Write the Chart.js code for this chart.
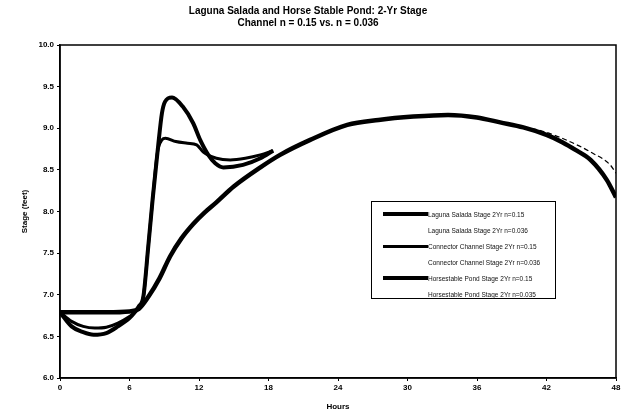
<!DOCTYPE html>
<html lang="en">
<head>
  <meta charset="UTF-8">
  <title>Laguna Salada and Horse Stable Pond: 2-Yr Stage</title>
  <script src="https://cdn.jsdelivr.net/npm/chart.js"></script>
  <style>
    body { margin: 0; background: #fff; }
    #wrap { position: relative; width: 627px; height: 417px; }
    #legend {
      position: absolute; left: 371px; top: 201px; width: 185px; height: 98px;
      border: 1px solid #000; background: #fff; box-sizing: border-box;
      font-family: Arial, "Liberation Sans", sans-serif; font-size: 6.5px; color: #111;
    }
    .row { position: absolute; left: 0; height: 16px; display: flex; align-items: center; white-space: nowrap; }
    .swatch { width: 45px; margin-left: 11px; background: #000; }
  </style>
</head>
<body>

<div id="wrap">
  <canvas id="stageChart" width="627" height="417"></canvas>
  <div id="legend"></div>
</div>

<script>
// hours and stage (feet)
const lagunaHours = [0, 1, 2, 2.9, 4, 5, 6, 6.4, 6.8, 7.2, 7.6, 8, 8.46, 8.8, 9.07, 9.67, 10.6, 11.5, 12.1, 12.8, 13.4, 14.1, 15.8, 17.3, 18.4];
const lagunaStage015 = [6.79, 6.62, 6.55, 6.52, 6.54, 6.62, 6.72, 6.78, 6.86, 6.98, 7.55, 8.15, 8.77, 9.18, 9.32, 9.37, 9.26, 9.06, 8.86, 8.68, 8.58, 8.53, 8.56, 8.64, 8.73];
const lagunaStage036 = [6.79, 6.62, 6.55, 6.52, 6.54, 6.62, 6.72, 6.78, 6.86, 6.98, 7.55, 8.15, 8.77, 9.18, 9.32, 9.37, 9.26, 9.06, 8.86, 8.68, 8.58, 8.53, 8.56, 8.64, 8.73];

const connectorHours = [0, 1, 2, 3, 4, 5, 6, 6.4, 6.8, 7.2, 7.6, 8, 8.4, 8.8, 9.1, 10, 11, 11.8, 12.4, 13.5, 14.7, 16, 17.3, 18.4];
const connectorStage015 = [6.79, 6.68, 6.62, 6.6, 6.61, 6.66, 6.74, 6.78, 6.86, 6.98, 7.55, 8.15, 8.7, 8.86, 8.88, 8.84, 8.82, 8.8, 8.71, 8.64, 8.62, 8.64, 8.68, 8.73];
const connectorStage036 = [6.79, 6.68, 6.62, 6.6, 6.61, 6.66, 6.74, 6.78, 6.86, 6.98, 7.55, 8.15, 8.7, 8.86, 8.88, 8.84, 8.82, 8.8, 8.71, 8.64, 8.62, 8.64, 8.68, 8.73];

const pondHours015 = [0, 2, 4, 6, 6.8, 7.6, 8.6, 9.5, 10.5, 11.5, 12.5, 13.5, 15, 17.3, 19, 21.6, 24.8, 27.5, 30.5, 33.5, 36, 38, 40, 42, 43.4, 44.5, 45.8, 47.2, 48];
const pondStage015 = [6.79, 6.79, 6.79, 6.8, 6.83, 6.97, 7.2, 7.46, 7.68, 7.85, 7.99, 8.11, 8.3, 8.53, 8.68, 8.86, 9.04, 9.1, 9.14, 9.16, 9.13, 9.07, 9.01, 8.92, 8.83, 8.74, 8.62, 8.38, 8.17];
const pondHours035 = [0, 2, 4, 6, 6.8, 7.6, 8.6, 9.5, 10.5, 11.5, 12.5, 13.5, 15, 17.3, 19, 21.6, 24.8, 27.5, 30.5, 33.5, 36, 38, 40, 42, 44, 46, 47.5, 48];
const pondStage035 = [6.79, 6.79, 6.79, 6.8, 6.83, 6.97, 7.2, 7.46, 7.68, 7.85, 7.99, 8.11, 8.3, 8.53, 8.68, 8.86, 9.04, 9.1, 9.14, 9.16, 9.13, 9.08, 9.02, 8.95, 8.84, 8.7, 8.56, 8.46];

const hourTicks = [0, 6, 12, 18, 24, 30, 36, 42, 48];

const seriesNames = [
  'Laguna Salada Stage 2Yr n=0.15',
  'Laguna Salada Stage 2Yr n=0.036',
  'Connector Channel Stage 2Yr n=0.15',
  'Connector Channel Stage 2Yr n=0.036',
  'Horsestable Pond Stage 2Yr n=0.15',
  'Horsestable Pond Stage 2Yr n=0.035'
];

function pts(xs, ys) {
  return xs.map((x, i) => ({ x: x, y: ys[i] }));
}

const lineWidths = [4, 1, 3, 1, 4.5, 1.2];
const dashes = [[], [3, 3], [], [3, 3], [], [5, 3]];
const seriesData = [
  pts(lagunaHours, lagunaStage015),
  pts(lagunaHours, lagunaStage036),
  pts(connectorHours, connectorStage015),
  pts(connectorHours, connectorStage036),
  pts(pondHours015, pondStage015),
  pts(pondHours035, pondStage035)
];

const frame = {
  id: 'frame',
  afterDraw(chart) {
    const a = chart.chartArea, ctx = chart.ctx;
    ctx.save();
    ctx.strokeStyle = '#000';
    ctx.lineWidth = 1.5;
    ctx.strokeRect(a.left, a.top, a.right - a.left, a.bottom - a.top);
    ctx.restore();
  }
};

const tickFont = { family: 'Arial', size: 8, weight: 'bold' };

new Chart(document.getElementById('stageChart'), {
  type: 'line',
  data: {
    datasets: seriesNames.map((name, i) => ({
      label: name,
      data: seriesData[i],
      borderColor: '#000',
      borderWidth: lineWidths[i],
      borderDash: dashes[i],
      pointRadius: 0,
      cubicInterpolationMode: 'monotone',
      fill: false
    }))
  },
  options: {
    responsive: false,
    animation: false,
    layout: { padding: { left: 0, right: 11, top: 0, bottom: 0 } },
    plugins: {
      legend: { display: false },
      tooltip: { enabled: false },
      title: {
        display: true,
        text: ['Laguna Salada and Horse Stable Pond: 2-Yr Stage', 'Channel n = 0.15 vs. n = 0.036'],
        color: '#000',
        font: { family: 'Arial', size: 10, weight: 'bold', lineHeight: 1.2 },
        padding: { top: 5, bottom: 16 }
      }
    },
    scales: {
      x: {
        type: 'linear',
        min: 0, max: 48,
        afterBuildTicks: s => { s.ticks = hourTicks.map(v => ({ value: v })); },
        afterFit: s => { s.height = 39; },
        ticks: { color: '#000', font: tickFont, padding: 2, maxRotation: 0 },
        grid: { drawOnChartArea: false, color: '#000', tickLength: 3 },
        border: { color: '#000', width: 1.5 },
        title: { display: true, text: 'Hours', color: '#000', font: tickFont, padding: { top: 0, bottom: 5 } }
      },
      y: {
        min: 6, max: 10,
        ticks: { stepSize: 0.5, color: '#000', font: tickFont, padding: 3, callback: v => v.toFixed(1) },
        afterFit: s => { s.width = 60; },
        grid: { drawOnChartArea: false, color: '#000', tickLength: 3 },
        border: { color: '#000', width: 1.5 },
        title: { display: true, text: 'Stage (feet)', color: '#000', font: tickFont, padding: { top: 20, bottom: 0 } }
      }
    }
  },
  plugins: [frame]
});

// legend drawn as html over the plot area
const legendBox = document.getElementById('legend');
const swatchHeights = [4, 0, 3, 0, 4, 0];
seriesNames.forEach((name, i) => {
  const row = document.createElement('div');
  row.className = 'row';
  row.style.top = (4 + i * 16) + 'px';
  const sw = document.createElement('div');
  sw.className = 'swatch';
  sw.style.height = swatchHeights[i] + 'px';
  const txt = document.createElement('span');
  txt.textContent = name;
  row.appendChild(sw);
  row.appendChild(txt);
  legendBox.appendChild(row);
});
</script>

</body>
</html>
